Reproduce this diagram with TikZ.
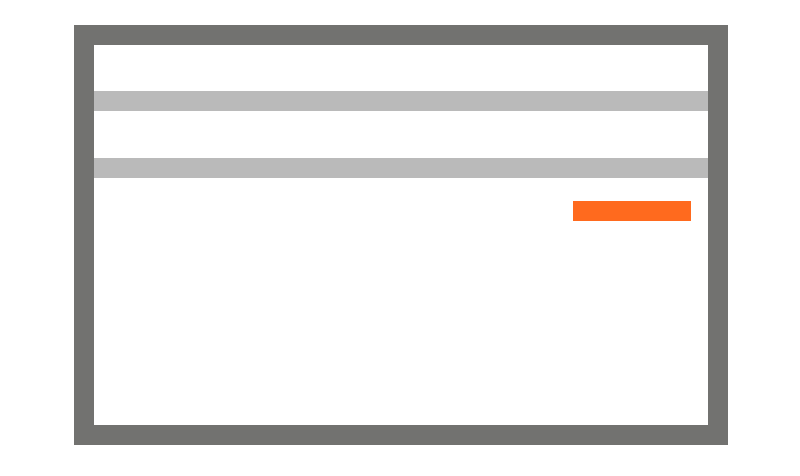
\documentclass[tikz,border=0pt]{standalone}
\definecolor{framegray}{HTML}{727270}
\definecolor{bargray}{HTML}{BABABA}
\definecolor{accent}{HTML}{FF6A1E}
\begin{document}
\begin{tikzpicture}[x=1pt,y=-1pt,
  framebox/.style={fill=framegray},
  barbox/.style={fill=bargray},
  accentbox/.style={fill=accent}]
\useasboundingbox (0,0) rectangle (800,475);
\fill[white] (0,0) rectangle (800,475);
\fill[framebox] (74,25) rectangle (727.5,445);
\fill[white] (94,45) rectangle (707.5,425);
\fill[barbox] (94,91) rectangle (707.5,111);
\fill[barbox] (94,157.7) rectangle (707.5,177.7);
\fill[accentbox] (573,200.5) rectangle (691,221);
\end{tikzpicture}
\end{document}
